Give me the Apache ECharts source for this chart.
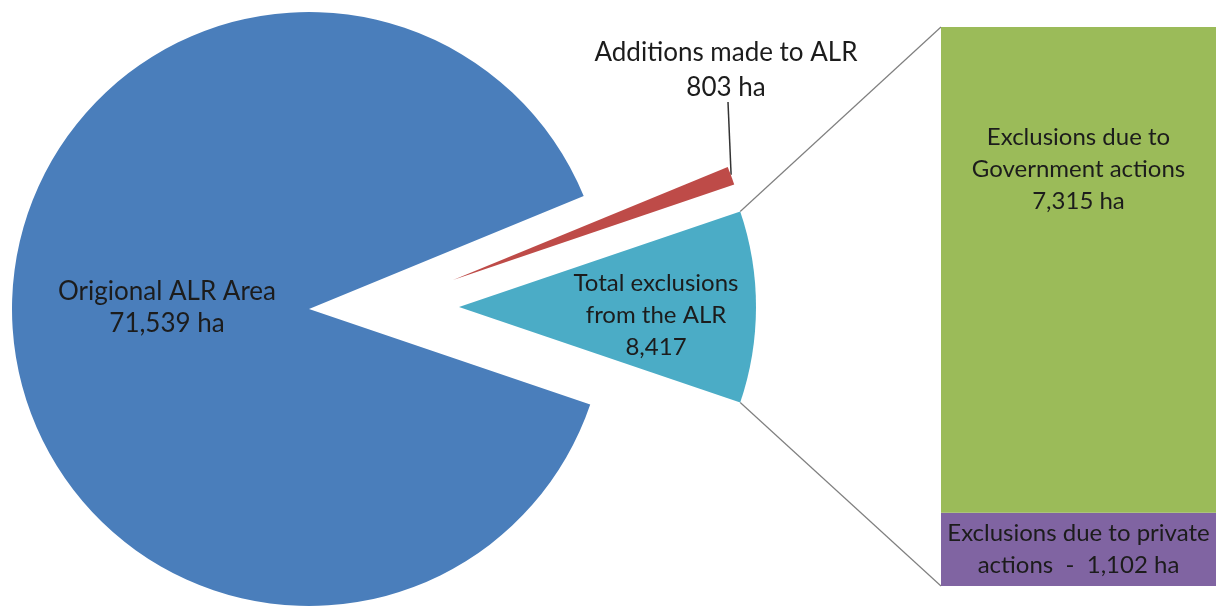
<!DOCTYPE html>
<html>
<head>
<meta charset="utf-8">
<script src="https://cdn.jsdelivr.net/npm/echarts@6/dist/echarts.min.js"></script>
<style>
  html, body { margin: 0; padding: 0; background: #ffffff; }
  #chart { width: 1216px; height: 607px; }
</style>
</head>
<body>
<div id="chart"></div>
<script>
// Pie: slices in clockwise order, starting with the exploded "total exclusions" slice
const pieNames = ['Total exclusions from the ALR', 'Origional ALR Area', 'Additions made to ALR'];
const pieValues = [8417, 71539, 803];
const pieLabels = ['Total exclusions\nfrom the ALR\n{v}', 'Origional ALR Area\n{v} ha', 'Additions made to ALR\n{v} ha'];

// Breakdown bar of the exclusions (bottom to top)
const barNames = ['Exclusions due to private actions', 'Exclusions due to Government actions'];
const barValues = [1102, 7315];
const barLabels = ['Exclusions due to private\nactions  -  {v} ha', 'Exclusions due to\nGovernment actions\n{v} ha'];

const pieColors = ['#4BACC6', '#4A7EBB', '#BE4B48'];
const barColors = ['#8064A2', '#9BBB59'];
const FONT = 'Lato, "Noto Sans", sans-serif';
const TEXT = '#1c1c1c';

const fmt = v => v.toLocaleString('en-US');
const pieTotal = pieValues.reduce((a, b) => a + b, 0);
const barTotal = barValues.reduce((a, b) => a + b, 0);
// the exclusions slice is centred on the horizontal axis
const startAngle = pieValues[0] / pieTotal * 180;

const R = 297;
const centers = [[459, 307], [309, 309], [453, 280]];   // each slice drawn around its own (exploded) centre
const labelPos = [
  { x: 656, y: 315, fontSize: 24, lineHeight: 32 },
  { x: 167, y: 308, fontSize: 26, lineHeight: 32 },
  { x: 726, y: 70,  fontSize: 26, lineHeight: 35 }
];

function pieSeries(k) {
  return {
    type: 'pie',
    center: centers[k],
    radius: R,
    startAngle: startAngle,
    clockwise: true,
    avoidLabelOverlap: false,
    silent: true,
    emphasis: { disabled: true },
    labelLine: { show: false },
    itemStyle: { borderWidth: 0 },
    labelLayout: { x: labelPos[k].x, y: labelPos[k].y, align: 'center', verticalAlign: 'middle' },
    data: pieValues.map((v, i) => ({
      name: pieNames[i],
      value: v,
      itemStyle: { color: i === k ? pieColors[i] : 'rgba(0,0,0,0)', borderWidth: 0 },
      label: i === k ? {
        show: true,
        position: 'inside',
        formatter: pieLabels[i].replace('{v}', fmt(v)),
        color: TEXT,
        fontFamily: FONT,
        fontSize: labelPos[k].fontSize,
        lineHeight: labelPos[k].lineHeight,
        align: 'center'
      } : { show: false }
    }))
  };
}

const GRID = { left: 941, top: 27, width: 284, height: 559 };

function barSeries(i) {
  return {
    type: 'bar',
    name: barNames[i],
    stack: 'exclusions',
    barWidth: '100%',
    silent: true,
    emphasis: { disabled: true },
    itemStyle: { color: barColors[i] },
    label: {
      show: true,
      position: i === 1 ? 'insideTop' : 'inside',
      distance: i === 1 ? 94 : 0,
      formatter: barLabels[i].replace('{v}', fmt(barValues[i])),
      color: TEXT,
      fontFamily: FONT,
      fontSize: 24,
      lineHeight: 32,
      align: 'center'
    },
    data: [barValues[i]]
  };
}

const chart = echarts.init(document.getElementById('chart'), null, { renderer: 'canvas' });
chart.setOption({
  animation: false,
  backgroundColor: '#ffffff',
  grid: GRID,
  xAxis: { type: 'category', data: ['exclusions'], show: false },
  yAxis: { type: 'value', min: 0, max: barTotal, show: false },
  series: [pieSeries(0), pieSeries(1), pieSeries(2), barSeries(0), barSeries(1)]
});

// Connector lines between the exclusions slice and the bar, and the leader for the additions label
const rad = Math.PI / 180;
const half = startAngle * rad;
const tc = centers[0];
const upperArc = [tc[0] + R * Math.cos(half), tc[1] - R * Math.sin(half)];
const lowerArc = [tc[0] + R * Math.cos(half), tc[1] + R * Math.sin(half)];
const barTop = chart.convertToPixel({ yAxisIndex: 0 }, barTotal);
const barBottom = chart.convertToPixel({ yAxisIndex: 0 }, 0);

const redMid = (startAngle + pieValues[2] / pieTotal * 360 / 2) * rad;
const rc = centers[2];
const redTip = [rc[0] + R * Math.cos(redMid), rc[1] - R * Math.sin(redMid) - 1];

chart.setOption({
  graphic: [
    { type: 'line', silent: true, shape: { x1: upperArc[0], y1: upperArc[1], x2: GRID.left, y2: barTop },
      style: { stroke: '#7f7f7f', lineWidth: 1.2 } },
    { type: 'line', silent: true, shape: { x1: lowerArc[0], y1: lowerArc[1], x2: GRID.left, y2: barBottom },
      style: { stroke: '#7f7f7f', lineWidth: 1.2 } },
    { type: 'line', silent: true, shape: { x1: labelPos[2].x + 2, y1: labelPos[2].y + 32, x2: redTip[0], y2: redTip[1] },
      style: { stroke: '#333333', lineWidth: 1.5 } }
  ]
});
</script>
</body>
</html>
